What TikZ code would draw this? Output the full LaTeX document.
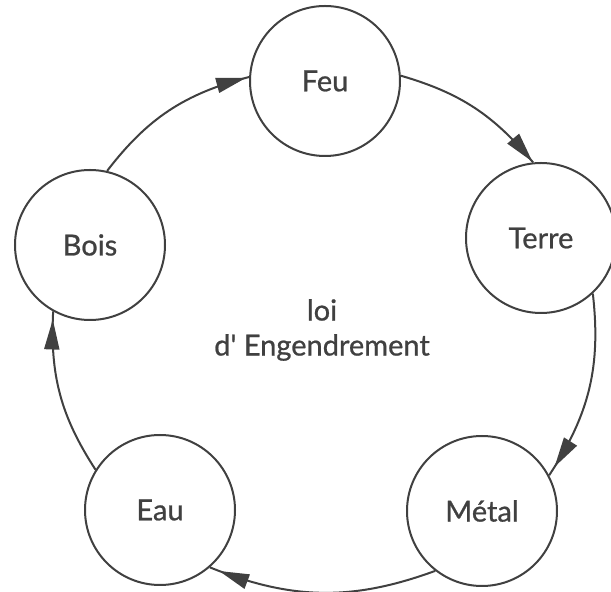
\documentclass[tikz,border=0pt]{standalone}
\usepackage{fontspec}
\setmainfont{Lato}[FakeBold=0.8]
\usetikzlibrary{arrows.meta,decorations.markings}

\definecolor{encre}{HTML}{404040}

\tikzset{
  element/.style={circle, draw=encre, line width=1pt, minimum size=75pt, inner sep=0pt,
    text=encre, font=\fontsize{14.5}{17}\selectfont},
  cycle/.style={draw=encre, line width=1pt, bend left=18,
    decoration={markings, mark=at position -#1 with {\arrow{Triangle[length=15pt,width=7.5pt]}}},
    postaction={decorate}},
  cycle/.default=3pt
}

\begin{document}
\begin{tikzpicture}[x=0.5pt, y=-0.5pt]
    \useasboundingbox (0,0) rectangle (611,592);

    % Les cinq elements
    \node[element] (feu) at (325,81) {Feu};
    \node[element] (terre) at (541,238) {Terre};
    \node[element] (metal) at (482,511) {Métal};
    \node[element] (eau) at (160,510) {Eau};
    \node[element] (bois) at (90,245) {Bois};

    % Titre au centre
    \node[text=encre, font=\fontsize{14.5}{17.5}\selectfont, align=center] (titre) at (322,330)
      {loi\\d\textquotesingle{} Engendrement};

    % Cycle
    \draw[cycle=1.5pt, bend left=19] (bois.77) to (feu.177);
    \draw[cycle=0.5pt, bend left=17] (feu.4) to (terre.96);
    \draw[cycle=5pt, bend left=20] (terre.-47) to (metal.28);
    \draw[cycle=5pt, bend left=21] (metal.232) to (eau.-49);
    \draw[cycle=4pt] (eau.148) to (bois.241);
\end{tikzpicture}
\end{document}
